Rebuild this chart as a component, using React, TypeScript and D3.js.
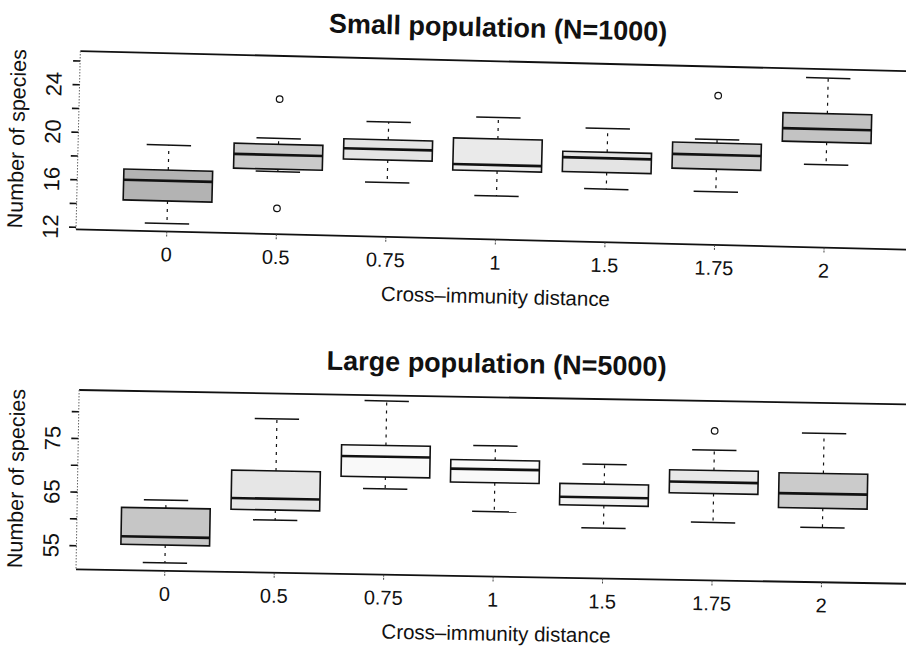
import React from 'react';
import * as d3 from 'd3';

// cross-immunity distances (x categories)
const categories = ['0', '0.5', '0.75', '1', '1.5', '1.75', '2'];

// Small population (N=1000): whisker ends, quartiles, medians, outliers
const smallLow = [12.5, 17.1, 16.4, 15.5, 16.3, 16.3, 18.8];
const smallQ1 = [14.4, 17.3, 18.3, 17.6, 17.7, 18.2, 20.7];
const smallMed = [16.1, 18.5, 19.2, 18.1, 18.9, 19.4, 21.8];
const smallQ3 = [17.0, 19.4, 20.0, 20.3, 19.4, 20.4, 23.1];
const smallHigh = [19.1, 19.9, 21.5, 22.1, 21.4, 20.7, 26.1];
const smallOut = [[], [23.2, 14.0], [], [], [], [24.4], []];
const smallTicks = [12, 14, 16, 18, 20, 22, 24, 26];
const smallLabels = [12, 16, 20, 24];

// Large population (N=5000)
const largeLow = [52.1, 60.4, 66.6, 62.7, 60.0, 61.4, 60.8];
const largeQ1 = [55.4, 62.3, 68.8, 68.1, 64.2, 66.8, 64.4];
const largeMed = [56.9, 64.4, 72.6, 70.6, 65.7, 68.9, 67.1];
const largeQ3 = [62.3, 69.6, 74.7, 72.3, 68.2, 71.1, 70.9];
const largeHigh = [63.8, 79.3, 83.0, 75.0, 71.9, 74.9, 78.4];
const largeOut = [[], [], [], [], [], [78.5], []];
const largeTicks = [55, 60, 65, 70, 75, 80];
const largeLabels = [55, 65, 75];

// grey fills of the scanned boxes
const smallFill = ['#b3b3b3', '#cacaca', '#e4e4e4', '#eaeaea', '#e4e4e4', '#cdcdcd', '#c3c3c3'];
const largeFill = ['#c6c6c6', '#e6e6e6', '#f9f9f9', '#f9f9f9', '#f2f2f2', '#e8e8e8', '#cbcbcb'];

const font = '"Liberation Sans", Arial, Helvetica, sans-serif';

function Panel({ title, low, q1, med, q3, high, out, fills, ticks, labels, domain, px, py, top, angle, xRange }) {
  const axisX = 76;
  const y = d3.scaleLinear().domain(domain).range([py, top]);
  const x = d3.scalePoint().domain(categories).range(xRange);
  const step = (xRange[1] - xRange[0]) / (categories.length - 1);
  const bw = step * 0.81;
  const mid = (py + top) / 2;

  return (
    <g transform={`rotate(${angle}, ${px}, ${py})`} fontFamily={font} fill="#111">
      <text x={493} y={top - 24.5} textAnchor="middle" fontSize={27} fontWeight="bold">{title}</text>

      {/* frame */}
      <line x1={axisX} x2={915} y1={top} y2={top} stroke="#111" strokeWidth={1.8} />
      <line x1={axisX} x2={915} y1={py} y2={py} stroke="#111" strokeWidth={1.8} />
      <line x1={axisX} x2={axisX} y1={top} y2={py} stroke="#666" strokeWidth={1} strokeDasharray="1.5 1.5" />

      {/* y axis */}
      {ticks.map(t => (
        <line key={t} x1={axisX - 7} x2={axisX} y1={y(t)} y2={y(t)} stroke="#111" strokeWidth={1.6} />
      ))}
      {labels.map(t => (
        <text key={t} transform={`translate(58, ${y(t)}) rotate(-90)`} textAnchor="middle" fontSize={22}>{t}</text>
      ))}
      <text transform={`translate(22, ${mid}) rotate(-90)`} textAnchor="middle" fontSize={21.5}>Number of species</text>

      {/* x axis */}
      {categories.map(c => (
        <g key={c}>
          <line x1={x(c)} x2={x(c)} y1={py} y2={py + 6} stroke="#444" strokeWidth={1} strokeDasharray="2 1" />
          <text x={x(c)} y={py + 30} textAnchor="middle" fontSize={20}>{c}</text>
        </g>
      ))}
      <text x={497} y={py + 64} textAnchor="middle" fontSize={20.5}>Cross–immunity distance</text>

      {/* boxes */}
      {categories.map((c, i) => {
        const cx = x(c);
        return (
          <g key={c} stroke="#111" fill="none">
            <line x1={cx} x2={cx} y1={y(q3[i])} y2={y(high[i])} strokeWidth={1.2} strokeDasharray="3 5" />
            <line x1={cx} x2={cx} y1={y(q1[i])} y2={y(low[i])} strokeWidth={1.2} strokeDasharray="3 5" />
            <line x1={cx - bw / 4} x2={cx + bw / 4} y1={y(high[i])} y2={y(high[i])} strokeWidth={1.5} />
            <line x1={cx - bw / 4} x2={cx + bw / 4} y1={y(low[i])} y2={y(low[i])} strokeWidth={1.5} />
            <rect x={cx - bw / 2} y={y(q3[i])} width={bw} height={y(q1[i]) - y(q3[i])} fill={fills[i]} strokeWidth={1.6} />
            <line x1={cx - bw / 2} x2={cx + bw / 2} y1={y(med[i])} y2={y(med[i])} strokeWidth={2.6} />
            {out[i].map((o, k) => (
              <circle key={k} cx={cx} cy={y(o)} r={3.3} strokeWidth={1.2} fill="none" />
            ))}
          </g>
        );
      })}
    </g>
  );
}

export default function App() {
  return (
    <svg width={906} height={648} style={{ position: 'absolute', left: 0, top: 0, background: '#fff' }}>
      <rect width={906} height={648} fill="#fff" />
      <Panel
        title="Small population (N=1000)"
        low={smallLow} q1={smallQ1} med={smallMed} q3={smallQ3} high={smallHigh} out={smallOut}
        fills={smallFill} ticks={smallTicks} labels={smallLabels}
        domain={[11.83, 26.84]} px={77} py={229.3} top={51} angle={1.4} xRange={[166.8, 824.3]}
      />
      <Panel
        title="Large population (N=5000)"
        low={largeLow} q1={largeQ1} med={largeMed} q3={largeQ3} high={largeHigh} out={largeOut}
        fills={largeFill} ticks={largeTicks} labels={largeLabels}
        domain={[50.6, 84.05]} px={77} py={569.3} top={390} angle={1.0} xRange={[164.8, 821.6]}
      />
    </svg>
  );
}
